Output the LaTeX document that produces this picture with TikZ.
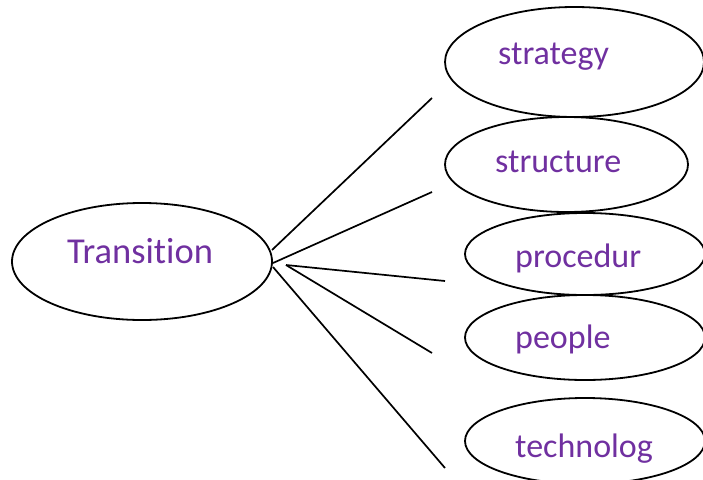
\documentclass[tikz,border=0pt]{standalone}
\usepackage{fontspec}
\setmainfont[Ligatures={NoCommon}]{Carlito}
\usetikzlibrary{shapes.geometric}
\definecolor{lblpurple}{HTML}{7030A0}
\begin{document}
\begin{tikzpicture}[x=1pt,y=-1pt,
  oval/.style={draw=black,line width=1.8pt,ellipse,inner sep=0pt},
  lbl/.style={text=lblpurple,anchor=base west,inner sep=0pt,font=\fontsize{34}{40}\selectfont},
  conn/.style={draw=black,line width=1.7pt}]
\useasboundingbox (0,0) rectangle (703,479);
% ellipses
\node[oval,minimum width=260pt,minimum height=117pt] (T) at (142,261.5) {};
\node[oval,minimum width=259pt,minimum height=110pt] (s1) at (574.5,62) {};
\node[oval,minimum width=243pt,minimum height=95pt] (s2) at (566.5,164.5) {};
\node[oval,minimum width=240pt,minimum height=82pt] (s3) at (585,254) {};
\node[oval,minimum width=240pt,minimum height=85pt] (s4) at (585,337.5) {};
\node[oval,minimum width=240pt,minimum height=86pt] (s5) at (585,441) {};
% labels
\node[lbl,font=\fontsize{36.5}{42}\selectfont] (tT) at (67,263) {Transition};
\node[lbl] (t1) at (498,64) {strategy};
\node[lbl] (t2) at (495,172) {structure};
\node[lbl] (t3) at (515,267) {procedur};
\node[lbl] (t4) at (515,348) {people};
\node[lbl] (t5) at (515,457) {technolog};
% connector ends
\coordinate (a1) at (272,250);
\coordinate (a2) at (273,263);
\coordinate (a3) at (286,265);
\coordinate (a5) at (273,267);
\coordinate (e1) at (432,98);
\coordinate (e2) at (432,192);
\coordinate (e3) at (445,281);
\coordinate (e4) at (432,353);
\coordinate (e5) at (445,468);
\draw[conn] (a1) -- (e1);
\draw[conn] (a2) -- (e2);
\draw[conn] (a3) -- (e3);
\draw[conn] (a3) -- (e4);
\draw[conn] (a5) -- (e5);
\end{tikzpicture}
\end{document}
